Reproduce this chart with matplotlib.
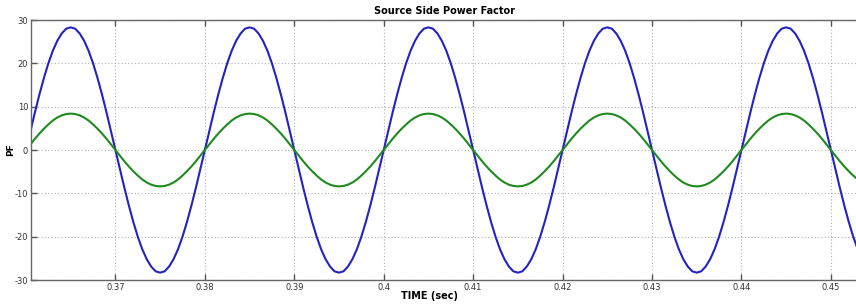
import numpy as np
import matplotlib
matplotlib.use("Agg")
import matplotlib.pyplot as plt

plt.rcParams["axes.unicode_minus"] = False

# sample times (s), 0.5 ms spacing
time_s = np.linspace(0.360, 0.455, 191)

blue_vals = [
    0, 4.4, 8.7, 12.8, 16.6, 20.0, 22.9, 25.2, 26.9, 28.0, 28.3, 28.0, 26.9, 25.2, 22.9, 20.0, 16.6, 12.8, 8.7, 4.4,
    0, -4.4, -8.7, -12.8, -16.6, -20.0, -22.9, -25.2, -26.9, -28.0, -28.3, -28.0, -26.9, -25.2, -22.9, -20.0, -16.6, -12.8, -8.7, -4.4,
    0, 4.4, 8.7, 12.8, 16.6, 20.0, 22.9, 25.2, 26.9, 28.0, 28.3, 28.0, 26.9, 25.2, 22.9, 20.0, 16.6, 12.8, 8.7, 4.4,
    0, -4.4, -8.7, -12.8, -16.6, -20.0, -22.9, -25.2, -26.9, -28.0, -28.3, -28.0, -26.9, -25.2, -22.9, -20.0, -16.6, -12.8, -8.7, -4.4,
    0, 4.4, 8.7, 12.8, 16.6, 20.0, 22.9, 25.2, 26.9, 28.0, 28.3, 28.0, 26.9, 25.2, 22.9, 20.0, 16.6, 12.8, 8.7, 4.4,
    0, -4.4, -8.7, -12.8, -16.6, -20.0, -22.9, -25.2, -26.9, -28.0, -28.3, -28.0, -26.9, -25.2, -22.9, -20.0, -16.6, -12.8, -8.7, -4.4,
    0, 4.4, 8.7, 12.8, 16.6, 20.0, 22.9, 25.2, 26.9, 28.0, 28.3, 28.0, 26.9, 25.2, 22.9, 20.0, 16.6, 12.8, 8.7, 4.4,
    0, -4.4, -8.7, -12.8, -16.6, -20.0, -22.9, -25.2, -26.9, -28.0, -28.3, -28.0, -26.9, -25.2, -22.9, -20.0, -16.6, -12.8, -8.7, -4.4,
    0, 4.4, 8.7, 12.8, 16.6, 20.0, 22.9, 25.2, 26.9, 28.0, 28.3, 28.0, 26.9, 25.2, 22.9, 20.0, 16.6, 12.8, 8.7, 4.4,
    0, -4.4, -8.7, -12.8, -16.6, -20.0, -22.9, -25.2, -26.9, -28.0, -28.3,
]

green_vals = [
    0, 1.3, 2.6, 3.8, 4.9, 5.9, 6.8, 7.5, 8.0, 8.3, 8.4, 8.3, 8.0, 7.5, 6.8, 5.9, 4.9, 3.8, 2.6, 1.3,
    0, -1.3, -2.6, -3.8, -4.9, -5.9, -6.8, -7.5, -8.0, -8.3, -8.4, -8.3, -8.0, -7.5, -6.8, -5.9, -4.9, -3.8, -2.6, -1.3,
    0, 1.3, 2.6, 3.8, 4.9, 5.9, 6.8, 7.5, 8.0, 8.3, 8.4, 8.3, 8.0, 7.5, 6.8, 5.9, 4.9, 3.8, 2.6, 1.3,
    0, -1.3, -2.6, -3.8, -4.9, -5.9, -6.8, -7.5, -8.0, -8.3, -8.4, -8.3, -8.0, -7.5, -6.8, -5.9, -4.9, -3.8, -2.6, -1.3,
    0, 1.3, 2.6, 3.8, 4.9, 5.9, 6.8, 7.5, 8.0, 8.3, 8.4, 8.3, 8.0, 7.5, 6.8, 5.9, 4.9, 3.8, 2.6, 1.3,
    0, -1.3, -2.6, -3.8, -4.9, -5.9, -6.8, -7.5, -8.0, -8.3, -8.4, -8.3, -8.0, -7.5, -6.8, -5.9, -4.9, -3.8, -2.6, -1.3,
    0, 1.3, 2.6, 3.8, 4.9, 5.9, 6.8, 7.5, 8.0, 8.3, 8.4, 8.3, 8.0, 7.5, 6.8, 5.9, 4.9, 3.8, 2.6, 1.3,
    0, -1.3, -2.6, -3.8, -4.9, -5.9, -6.8, -7.5, -8.0, -8.3, -8.4, -8.3, -8.0, -7.5, -6.8, -5.9, -4.9, -3.8, -2.6, -1.3,
    0, 1.3, 2.6, 3.8, 4.9, 5.9, 6.8, 7.5, 8.0, 8.3, 8.4, 8.3, 8.0, 7.5, 6.8, 5.9, 4.9, 3.8, 2.6, 1.3,
    0, -1.3, -2.6, -3.8, -4.9, -5.9, -6.8, -7.5, -8.0, -8.3, -8.4,
]

x_ticks = [0.37, 0.38, 0.39, 0.40, 0.41, 0.42, 0.43, 0.44, 0.45]
x_tick_labels = ["0.37", "0.38", "0.39", "0.4", "0.41", "0.42", "0.43", "0.44", "0.45"]
y_ticks = [-30, -20, -10, 0, 10, 20, 30]

fig = plt.figure(figsize=(8.56, 3.05), dpi=100)
ax = fig.add_axes([31 / 856, 25 / 305, 1 - 31 / 856 + 0.002, 260 / 305])

ax.plot(time_s, blue_vals, color="#2323c0", lw=1.5, solid_joinstyle="round")
ax.plot(time_s, green_vals, color="#1f8a1f", lw=1.5, solid_joinstyle="round")

ax.set_xlim(0.36056, 0.4530)
ax.set_ylim(-30, 30)
ax.set_xticks(x_ticks)
ax.set_xticklabels(x_tick_labels)
ax.set_yticks(y_ticks)

ax.grid(True, color="#b0b0b0", linestyle=(0, (1, 2)), linewidth=0.8)
ax.tick_params(direction="in", length=4, width=1, colors="#555555",
               labelsize=6, labelcolor="#333333", top=True, right=False, pad=2)
for s in ax.spines.values():
    s.set_color("#666666")
    s.set_linewidth(1.0)
ax.spines["right"].set_visible(False)

ax.set_title("Source Side Power Factor", fontsize=7, fontweight="bold", pad=4)
ax.set_xlabel("TIME (sec)", fontsize=7, fontweight="bold", va="center")
ax.xaxis.set_label_coords((428 - 31) / (856 - 31 - 2), -16 / 260)
ax.set_ylabel("PF", fontsize=6.5, fontweight="bold")
ax.yaxis.set_label_coords(-16 / 825, 0.5)

fig.savefig("out.png", dpi=100)
